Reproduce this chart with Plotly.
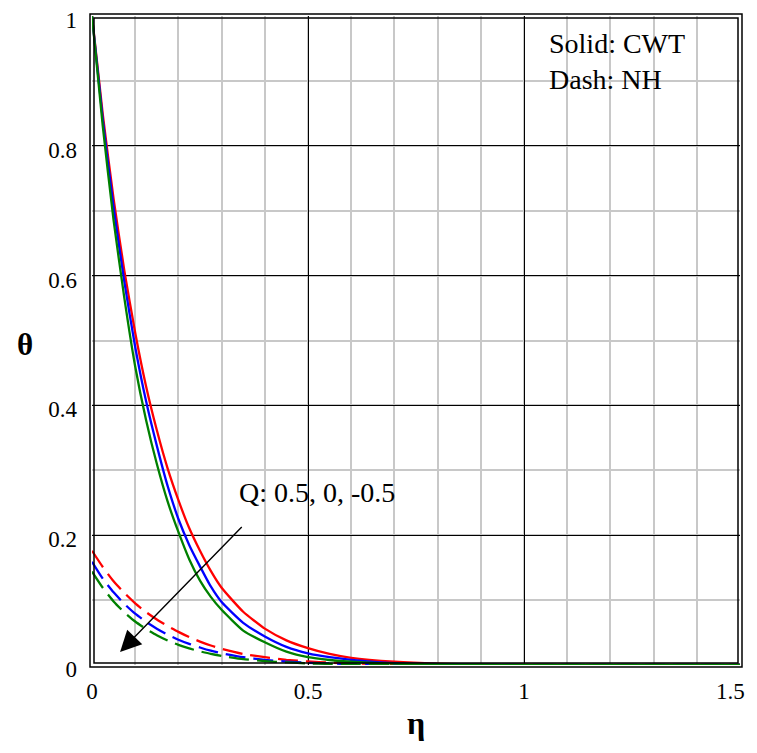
import plotly.graph_objects as go

eta = [0, 0.025, 0.05, 0.075, 0.1, 0.125, 0.15, 0.175, 0.2, 0.225, 0.25, 0.275, 0.3, 0.35, 0.4,
       0.45, 0.5, 0.55, 0.6, 0.7, 0.8, 0.9, 1.0, 1.25, 1.5]

# Solid: CWT
cwt_q05 = [1.0, 0.848, 0.718, 0.607, 0.512, 0.430, 0.362, 0.303, 0.254, 0.211, 0.176, 0.145, 0.119, 0.082, 0.056,
           0.038, 0.026, 0.017, 0.011, 0.005, 0.002, 0.001, 0.0005, 0.0001, 0.0]
cwt_q0 = [1.0, 0.840, 0.705, 0.590, 0.490, 0.407, 0.338, 0.276, 0.225, 0.185, 0.152, 0.121, 0.097, 0.065, 0.044,
          0.028, 0.018, 0.012, 0.008, 0.003, 0.0015, 0.0007, 0.0003, 0.0001, 0.0]
cwt_qm05 = [1.0, 0.830, 0.685, 0.565, 0.460, 0.378, 0.310, 0.252, 0.205, 0.163, 0.130, 0.105, 0.085, 0.053, 0.035,
            0.0205, 0.012, 0.0077, 0.005, 0.002, 0.001, 0.0004, 0.0002, 0.0, 0.0]

# Dash: NH
nh_q05 = [0.176, 0.151, 0.129, 0.111, 0.095, 0.0815, 0.070, 0.060, 0.051, 0.043, 0.036, 0.030, 0.025, 0.017, 0.012,
          0.008, 0.0055, 0.0037, 0.0025, 0.001, 0.0005, 0.0002, 0.0001, 0.0, 0.0]
nh_q0 = [0.159, 0.133, 0.112, 0.094, 0.079, 0.0665, 0.056, 0.0467, 0.039, 0.0325, 0.027, 0.022, 0.018, 0.012, 0.008,
         0.0053, 0.0035, 0.0023, 0.0015, 0.0006, 0.0003, 0.0001, 0.0001, 0.0, 0.0]
nh_qm05 = [0.144, 0.119, 0.098, 0.081, 0.067, 0.0555, 0.046, 0.0378, 0.031, 0.0255, 0.021, 0.0171, 0.014, 0.009, 0.006,
           0.0039, 0.0025, 0.0016, 0.001, 0.0004, 0.0002, 0.0001, 0.0, 0.0, 0.0]

colors = ["#ff0000", "#0000ff", "#008000"]

x_ticks = [0, 0.5, 1, 1.5]
x_tick_text = ["0", "0.5", "1", "1.5"]
y_ticks = [0, 0.2, 0.4, 0.6, 0.8, 1]
y_tick_text = ["0", "0.2", "0.4", "0.6", "0.8", "1"]

fig = go.Figure()
for ys, c in zip([nh_q05, nh_q0, nh_qm05], colors):
    fig.add_trace(go.Scatter(x=eta, y=ys, mode="lines",
                             line=dict(color=c, width=2.3, dash="20px,8px", shape="spline", smoothing=0.5),
                             showlegend=False))
for ys, c in zip([cwt_q05, cwt_q0, cwt_qm05], colors):
    fig.add_trace(go.Scatter(x=eta, y=ys, mode="lines",
                             line=dict(color=c, width=2.3, shape="spline", smoothing=0.5),
                             showlegend=False))

# page body has an 8px margin; figure sized so the page is 757x753
W, H = 741, 737
L, R, T, B = 84, 9, 8, 80
pw, ph = W - L - R, H - T - B
fx = 2.0 / pw
fy = 2.0 / ph

# last x tick label sits at the figure edge: draw it as a right-anchored text so it is not clipped
x_tick_shown = x_tick_text[:-1] + [""]

fig.update_layout(
    width=W, height=H,
    margin=dict(l=L, r=R, t=T, b=B, pad=0, autoexpand=False),
    paper_bgcolor="white", plot_bgcolor="white",
    font=dict(family="Liberation Serif, Times New Roman, serif", color="black"),
    xaxis=dict(range=[0, 1.5], tickvals=x_ticks, ticktext=x_tick_shown, showgrid=True,
               gridcolor="black", gridwidth=1.3, zeroline=False, showline=False, automargin=False,
               tickfont=dict(size=23), ticks="", ticklabelstandoff=10, ticklabeloverflow="allow",
               minor=dict(dtick=0.1, tick0=0, showgrid=True, gridcolor="#c8c8c8", gridwidth=1.8)),
    yaxis=dict(range=[0, 1], tickvals=y_ticks, ticktext=y_tick_text, showgrid=True,
               gridcolor="black", gridwidth=1.3, zeroline=False, showline=False, automargin=False,
               tickfont=dict(size=23), ticks="", ticklabelstandoff=14, ticklabeloverflow="allow",
               ticklabelshift=4,
               minor=dict(dtick=0.1, tick0=0, showgrid=True, gridcolor="#c8c8c8", gridwidth=1.8)),
    shapes=[
        dict(type="rect", xref="paper", yref="paper", x0=-fx, x1=1 + fx, y0=-fy, y1=1 + fy,
             line=dict(color="black", width=1.5)),
        dict(type="rect", xref="paper", yref="paper", x0=fx, x1=1 - fx, y0=fy, y1=1 - fy,
             line=dict(color="black", width=1.5)),
    ],
    annotations=[
        dict(text=x_tick_text[-1], x=x_ticks[-1], y=-0.041, xref="x", yref="paper",
             xanchor="right", yanchor="middle", xshift=7, showarrow=False, font=dict(size=23)),
        dict(text="Solid: CWT<br>Dash: NH", x=1.053, y=0.985, xref="x", yref="y",
             xanchor="left", yanchor="top", align="left", showarrow=False,
             font=dict(size=28)),
        dict(text="Q: 0.5, 0, -0.5", x=0.335, y=0.266, xref="x", yref="y",
             xanchor="left", yanchor="middle", showarrow=False, font=dict(size=28)),
        dict(text="", x=0.065, y=0.02, ax=0.35, ay=0.215, xref="x", yref="y",
             axref="x", ayref="y", showarrow=True, arrowhead=2, arrowsize=3.0,
             arrowwidth=1.4, arrowcolor="black"),
        dict(text="<b>η</b>", x=0.5, y=-0.09, xref="paper", yref="paper",
             xanchor="center", yanchor="middle", showarrow=False, font=dict(size=32)),
        dict(text="<b>θ</b>", x=-0.103, y=0.494, xref="paper", yref="paper",
             xanchor="center", yanchor="middle", showarrow=False, font=dict(size=31)),
    ],
)

fig.write_html("out.html")
